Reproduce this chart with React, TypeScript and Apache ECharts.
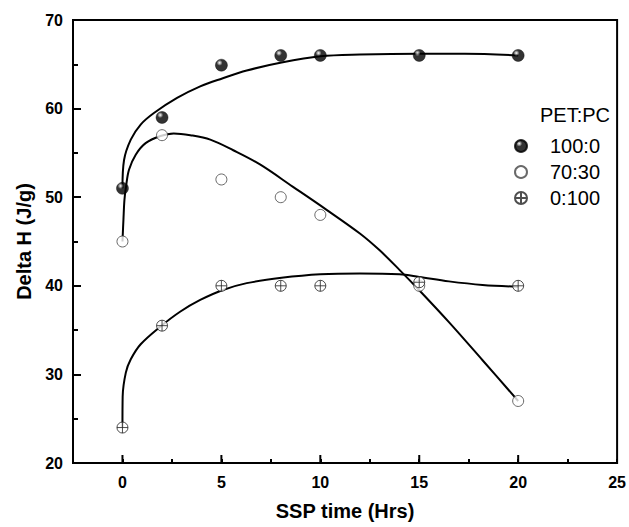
import React, { useEffect, useRef } from "react";
import * as echarts from "echarts";

// Measured points
const hours = [0, 2, 5, 8, 10, 15, 20];
const pet100 = [51, 59, 64.9, 66, 66, 66, 66];
const pet70 = [45, 57, 52, 50, 48, 40, 27];
const pet0 = [24, 35.5, 40, 40, 40, 40.4, 40];

// Fitted curves: [hours, deltaH]
const fit100: number[][] = [
  [0, 51], [0.08, 54.2], [0.42, 56.5], [0.92, 58.2], [1.59, 59.5], [2.76, 61.2],
  [3.93, 62.5], [5.04, 63.4], [6.28, 64.3], [8.04, 65.2], [10, 65.9], [12, 66.1],
  [15, 66.2], [17.3, 66.2], [20, 66.0],
];
const fit70: number[][] = [
  [0, 45], [0.05, 47.5], [0.1, 49.7], [0.18, 51.2], [0.33, 53.1], [0.67, 54.8],
  [1.17, 56.1], [1.92, 56.9], [2.59, 57.2], [3.43, 57.0], [4.44, 56.5], [5.6, 55.3],
  [6.95, 53.7], [8.6, 51.2], [10.3, 48.6], [12, 45.9], [13, 44.0], [14, 41.8],
  [15, 39.5], [16.5, 35.9], [18.2, 31.6], [20, 27],
];
const fit0: number[][] = [
  [0, 24], [0.01, 27.5], [0.17, 30.2], [0.42, 31.7], [0.92, 33.4], [1.92, 35.4],
  [2.93, 37.1], [3.93, 38.4], [5.04, 39.5], [6.28, 40.3], [8.04, 40.9], [10, 41.3],
  [12, 41.4], [14, 41.3], [15, 41.0], [16.5, 40.5], [18.2, 40.1], [20, 39.9],
];

const xMajorTicks = [0, 5, 10, 15, 20];
const seriesNames = ["100:0", "70:30", "0:100"];
const legendTitle = "PET:PC";

const FONT = "'Liberation Sans', Arial, sans-serif";

export default function App() {
  const ref = useRef<HTMLDivElement>(null);
  useEffect(() => {
    if (!ref.current) return;
    const chart = echarts.init(ref.current, null, { renderer: "svg" });
    const pts = (ys: number[]) => hours.map((h, i) => [h, ys[i]]);
    const lineCommon = {
      type: "line",
      showSymbol: false,
      symbol: "none",
      smooth: 0.35,
      lineStyle: { color: "#000", width: 2 },
      z: 2,
      silent: true,
      legendHoverLink: false,
    };
    chart.setOption({
      animation: false,
      backgroundColor: "#fff",
      textStyle: { fontFamily: FONT },
      grid: {
        left: 73,
        right: 10,
        top: 20,
        bottom: 64,
        show: true,
        borderColor: "#000",
        borderWidth: 2,
        backgroundColor: "transparent",
      },
      legend: {
        data: seriesNames,
        orient: "vertical",
        left: 509,
        top: 131,
        itemWidth: 12,
        itemHeight: 12,
        itemGap: 6,
        textStyle: { fontSize: 20, lineHeight: 20, color: "#000", fontFamily: FONT, padding: [0, 0, 0, 18] },
        selectedMode: false,
      },
      graphic: [
        {
          type: "text",
          left: 540,
          top: 105,
          style: { text: legendTitle, fontSize: 20, fill: "#000", fontFamily: FONT },
        },
      ],
      xAxis: {
        type: "value",
        min: -2.5,
        max: 25,
        interval: 2.5,
        name: "SSP time (Hrs)",
        nameLocation: "middle",
        nameGap: 38,
        nameTextStyle: { fontSize: 20, fontWeight: "bold", color: "#000", fontFamily: FONT },
        axisLine: { show: true, onZero: false, lineStyle: { color: "#000", width: 2 } },
        axisTick: { show: true, inside: true, length: 4, lineStyle: { color: "#000", width: 2 } },
        axisLabel: {
          show: true,
          margin: 11,
          fontSize: 16,
          fontWeight: "bold",
          color: "#000",
          fontFamily: FONT,
          formatter: (v: number) => (v >= 0 && v % 5 === 0 ? String(v) : ""),
        },
        splitLine: { show: false },
      },
      yAxis: {
        type: "value",
        min: 20,
        max: 70,
        interval: 10,
        name: "Delta H (J/g)",
        nameLocation: "middle",
        nameGap: 38,
        nameTextStyle: { fontSize: 20, fontWeight: "bold", color: "#000", fontFamily: FONT },
        axisLine: { show: true, onZero: false, lineStyle: { color: "#000", width: 2 } },
        axisTick: { show: true, inside: true, length: 8, lineStyle: { color: "#000", width: 2 } },
        minorTick: { show: true, splitNumber: 2, length: 5, lineStyle: { color: "#000", width: 2 } },
        axisLabel: { margin: 10, fontSize: 16, fontWeight: "bold", color: "#000", fontFamily: FONT },
        splitLine: { show: false },
        minorSplitLine: { show: false },
      },
      series: [
        {
          type: "custom",
          name: "majorTicks",
          silent: true,
          z: 1,
          clip: false,
          data: xMajorTicks.map((v) => [v, 20]),
          renderItem: (_p: any, api: any) => {
            const p = api.coord([api.value(0), api.value(1)]);
            return {
              type: "line",
              shape: { x1: p[0], y1: p[1], x2: p[0], y2: p[1] - 8 },
              style: { stroke: "#000", lineWidth: 2 },
            };
          },
        },
        { ...lineCommon, name: "fit100", data: fit100 },
        { ...lineCommon, name: "fit70", data: fit70 },
        { ...lineCommon, name: "fit0", data: fit0 },
        {
          type: "scatter",
          name: seriesNames[0],
          data: pts(pet100),
          symbol: "circle",
          symbolSize: 12,
          z: 3,
          itemStyle: {
            color: {
              type: "radial",
              x: 0.35,
              y: 0.3,
              r: 0.55,
              colorStops: [
                { offset: 0, color: "#fff" },
                { offset: 0.25, color: "#777" },
                { offset: 0.45, color: "#000" },
                { offset: 1, color: "#000" },
              ],
            },
            borderColor: "#000",
            borderWidth: 0.5,
          },
        },
        {
          type: "scatter",
          name: seriesNames[1],
          data: pts(pet70),
          symbol: "circle",
          symbolSize: 11,
          z: 3,
          itemStyle: { color: "#fff", borderColor: "#444", borderWidth: 1 },
        },
        {
          type: "scatter",
          name: seriesNames[2],
          data: pts(pet0),
          symbol: "path://M10,0A10,10,0,1,1,10,20A10,10,0,1,1,10,0ZM0,10L20,10M10,0L10,20",
          symbolSize: 11,
          z: 4,
          itemStyle: { color: "#fff", borderColor: "#222", borderWidth: 1 },
        },
      ],
    });
    return () => chart.dispose();
  }, []);
  return (
    <div
      ref={ref}
      style={{ position: "fixed", left: 0, top: 0, width: 629, height: 527, background: "#fff" }}
    />
  );
}
